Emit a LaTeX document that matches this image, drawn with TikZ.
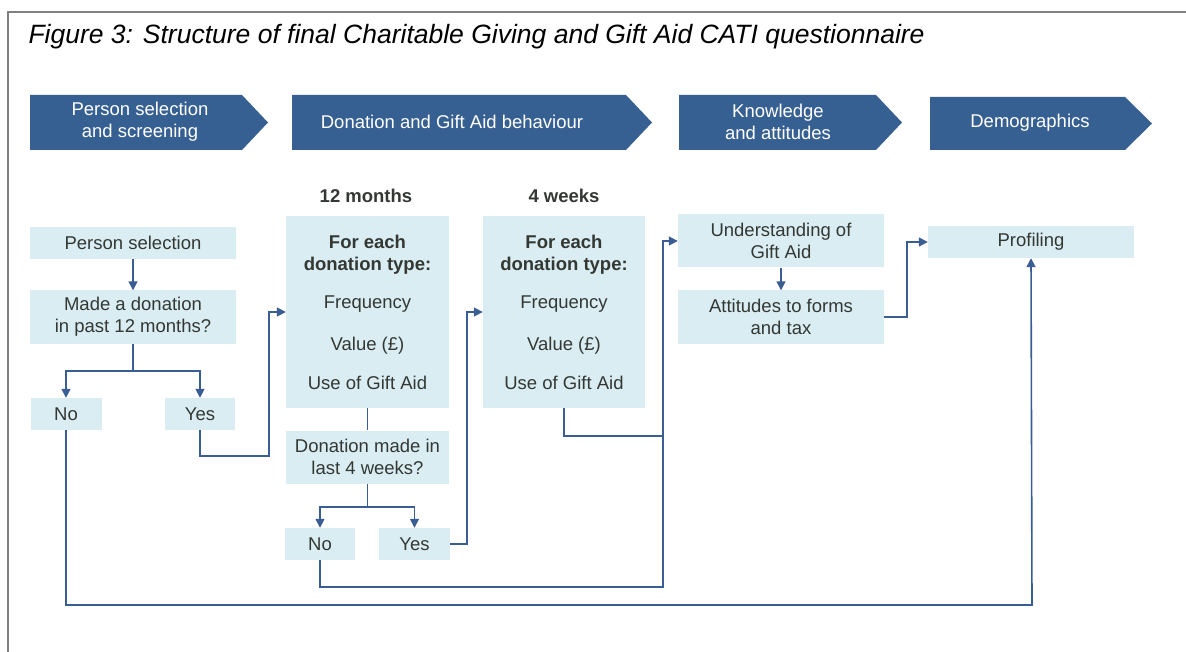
\documentclass[tikz,border=0pt]{standalone}
\usepackage{fontspec}
\setmainfont{Liberation Sans}
\usetikzlibrary{arrows.meta}

\definecolor{hdrblue}{RGB}{55,96,146}
\definecolor{boxblue}{RGB}{218,237,243}
\definecolor{linkblue}{RGB}{58,94,148}
\definecolor{txtgray}{RGB}{51,56,51}
\definecolor{framegray}{RGB}{128,128,128}

\begin{document}
\begin{tikzpicture}[x=1pt,y=-1pt,
	box/.style={fill=boxblue,text=txtgray,inner sep=0pt,align=center,font=\fontsize{18.5}{22}\selectfont},
	hdr/.style={text=white,align=center,font=\fontsize{18.5}{22}\selectfont},
	link/.style={draw=linkblue,line width=1.6pt},
	arr/.style={link,-{Triangle[length=9pt,width=9pt]}}]
	\useasboundingbox (0,0) rectangle (1186,652);
	\draw[framegray,line width=2.5pt] (8,652) -- (8,12) -- (1186,12);
\node[anchor=base west,font=\fontsize{26.5}{30}\selectfont\itshape] (title) at (25,44) {Figure 3: Structure of final Charitable Giving and Gift Aid CATI questionnaire};

\fill[hdrblue] (30,95) -- (242,95) -- (268,122.5) -- (242,150) -- (30,150) -- cycle;
\fill[hdrblue] (292,95) -- (626,95) -- (652,122.5) -- (626,150) -- (292,150) -- cycle;
\fill[hdrblue] (679,95) -- (876,95) -- (902,122.5) -- (876,150) -- (679,150) -- cycle;
\fill[hdrblue] (930,97) -- (1125,97) -- (1152,123.5) -- (1125,150) -- (930,150) -- cycle;
\node[hdr] (hsel) at (140,122) {Person selection\\and screening};
\node[hdr] (hdon) at (452,122) {Donation and Gift Aid behaviour};
\node[hdr] (hknow) at (778,122) {Knowledge\\and attitudes};
\node[hdr] (hdemo) at (1030,123) {Demographics};

\node[font=\fontsize{18.5}{22}\selectfont\bfseries,text=txtgray] (m12) at (366,196) {12 months};
\node[font=\fontsize{18.5}{22}\selectfont\bfseries,text=txtgray] (w4) at (564,196) {4 weeks};

\node[box,minimum width=206,minimum height=32] (psel) at (133,243) {Person selection};
\node[box,minimum width=206,minimum height=53] (made) at (133,317) {Made a donation\\in past 12 months?};
\node[box,minimum width=71,minimum height=32] (no1) at (66,414) {No};
\node[box,minimum width=70,minimum height=32] (yes1) at (200,414) {Yes};

\node[box,minimum width=163,minimum height=192] (box12) at (367.5,312) {\textbf{For each}\\\textbf{donation type:}\\[16pt]Frequency\\[20pt]Value (£)\\[17pt]Use of Gift Aid};
\node[box,minimum width=163,minimum height=53] (q4) at (367.5,457) {Donation made in\\last 4 weeks?};
\node[box,minimum width=70,minimum height=32] (no2) at (320,544) {No};
\node[box,minimum width=71,minimum height=32] (yes2) at (414.5,544) {Yes};

\node[box,minimum width=162,minimum height=192] (box4) at (564,312) {\textbf{For each}\\\textbf{donation type:}\\[16pt]Frequency\\[20pt]Value (£)\\[17pt]Use of Gift Aid};

\node[box,minimum width=206,minimum height=53] (und) at (781,241) {Understanding of\\Gift Aid};
\node[box,minimum width=206,minimum height=53] (att) at (781,317) {Attitudes to forms\\and tax};
\node[box,minimum width=206,minimum height=32] (prof) at (1031,242) {Profiling};

\draw[arr] (psel) -- (made);
\draw[link] (made.south) -- ++(0,27) coordinate (sp1);
\draw[arr] (sp1) -| (no1);
\draw[arr] (sp1) -| (yes1);
\draw[arr] (yes1.south) |- (269,456) |- (box12.west);
\draw[arr] (no1.south) |- (1032,605) -- (prof.south);

\draw[link] (box12) -- (q4);
\draw[link] (q4.south) -- ++(0,23) coordinate (sp2);
\draw[arr] (sp2) -| (no2);
\draw[arr] (sp2) -| (yes2);
\draw[arr] (yes2.east) -- ++(17,0) |- (box4.west);
\draw[arr] (no2.south) |- (663,587) |- (und.west);
\draw[link] (box4.south) |- (663,436);

\draw[arr] (und) -- (att);
\draw[arr] (att.east) -- ++(23,0) |- (prof.west);

\end{tikzpicture}
\end{document}
